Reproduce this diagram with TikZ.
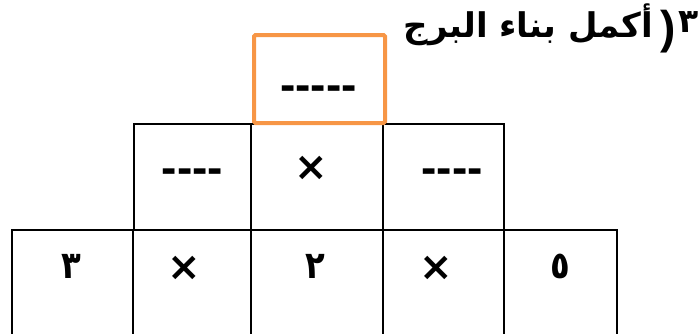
\documentclass[tikz,border=0pt]{standalone}
\usepackage{fontspec}
\newfontfamily\dashfont{Liberation Sans}
\newfontfamily\arabicfont[Script=Arabic]{DejaVu Sans}
\TeXXeTstate=1
\definecolor{boxorange}{HTML}{F79646}
\begin{document}
\begin{tikzpicture}[x=1pt,y=-1pt,
  cellbox/.style={draw=black,line width=1.8pt,anchor=north west,inner sep=0pt,minimum width=#1},
  dashtext/.style={font=\dashfont\fontsize{46}{46}\selectfont\bfseries,inner sep=0pt},
  timestext/.style={font=\arabicfont\fontsize{40}{40}\selectfont\bfseries,inner sep=0pt},
  digittext/.style={font=\arabicfont\fontsize{38}{38}\selectfont\bfseries,inner sep=0pt,xscale=0.85,transform shape}]
\clip (0,0) rectangle (700,333);
% bottom row
\node[cellbox=121pt,minimum height=130pt] (b1) at (11,229) {};
\node[cellbox=118pt,minimum height=130pt] (b2) at (132,229) {};
\node[cellbox=132pt,minimum height=130pt] (b3) at (250,229) {};
\node[cellbox=121pt,minimum height=130pt] (b4) at (382,229) {};
\node[cellbox=113pt,minimum height=130pt] (b5) at (503,229) {};
% middle row
\node[cellbox=117pt,minimum height=106pt] (m1) at (133,123) {};
\node[cellbox=132pt,minimum height=106pt] (m2) at (250,123) {};
\node[cellbox=121pt,minimum height=106pt] (m3) at (382,123) {};
% top orange box
\node[draw=boxorange,line width=4pt,rounded corners=1.5pt,anchor=north west,inner sep=0pt,
      minimum width=131pt,minimum height=88pt] (t1) at (252,33) {};
% texts
\node[dashtext] (tt) at (318.5,93) {-----};
\node[dashtext] (mt1) at (192.5,176) {----};
\node[timestext] (mt2) at (311,168) {×};
\node[dashtext] (mt3) at (452,176) {----};
\node[digittext] (bt1) at (71.5,266) {٣};
\node[timestext] (bt2) at (184.5,268) {×};
\node[digittext] (bt3) at (315,266) {٢};
\node[timestext] (bt4) at (436,268) {×};
\node[digittext] (bt5) at (560,266.5) {٥};
% title
\node[font=\arabicfont\fontsize{33}{33}\selectfont\bfseries,inner sep=0pt] (tnum) at (688.5,22.5) {٣};
\node[font=\dashfont\fontsize{46}{46}\selectfont\bfseries,inner sep=0pt] (tpar) at (668,31.5) {)};
\node[font=\arabicfont\fontsize{34}{34}\selectfont\bfseries,anchor=base east,inner sep=0pt] (title) at (653,37)
  {\beginR أكمل بناء البرج\endR};
\end{tikzpicture}
\end{document}
